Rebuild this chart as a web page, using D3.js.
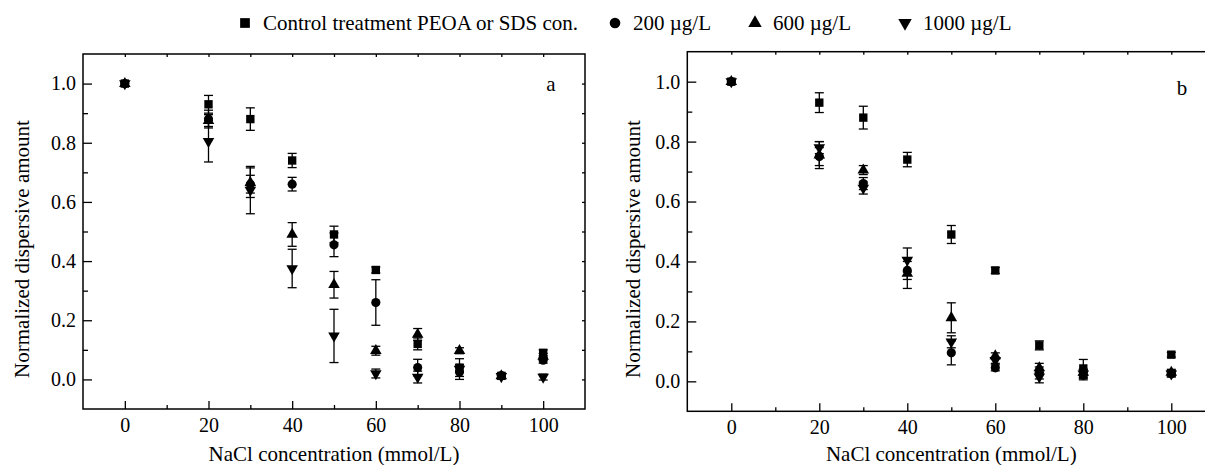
<!DOCTYPE html>
<html>
<head>
  <meta charset="utf-8" />
  <title>Normalized dispersive amount vs NaCl</title>
  <script src="https://d3js.org/d3.v7.min.js"></script>
  <style>
    body { margin: 0; background: #fff; }
    svg { display: block; }
    .axis path { display: none; }
    .axis line { stroke: #000; stroke-width: 1.3px; }
  </style>
</head>
<body>
<div id="chart"></div>
<script>
// ---- data ----
const concA = [0, 20, 30, 40, 50, 60, 70, 80, 90, 100];
const ctrlA = [1.0, 0.93, 0.88, 0.74, 0.49, 0.37, 0.12, 0.04, 0.012, 0.09];
const ctrlAErr = [0, 0.03, 0.038, 0.024, 0.028, 0.01, 0.02, 0.03, 0.008, 0.01];
const c200A = [1.0, 0.88, 0.66, 0.66, 0.455, 0.26, 0.04, 0.025, 0.013, 0.065];
const c200AErr = [0, 0.03, 0.03, 0.023, 0.04, 0.077, 0.028, 0.025, 0.008, 0.01];
const c600A = [1.0, 0.875, 0.665, 0.49, 0.32, 0.097, 0.152, 0.097, 0.012, 0.078];
const c600AErr = [0, 0.02, 0.05, 0.04, 0.045, 0.015, 0.02, 0.01, 0.008, 0.01];
const c1000A = [1.0, 0.805, 0.64, 0.375, 0.147, 0.02, 0.008, 0.035, 0.01, 0.008];
const c1000AErr = [0, 0.07, 0.08, 0.065, 0.09, 0.015, 0.02, 0.01, 0.008, 0.01];

const concB = [0, 20, 30, 40, 50, 60, 70, 80, 100];
const ctrlB = [1.0, 0.93, 0.88, 0.74, 0.49, 0.37, 0.12, 0.043, 0.089];
const ctrlBErr = [0, 0.033, 0.038, 0.024, 0.03, 0.01, 0.015, 0.03, 0.008];
const c200B = [1.0, 0.75, 0.66, 0.37, 0.095, 0.045, 0.028, 0.02, 0.025];
const c200BErr = [0, 0.03, 0.02, 0.03, 0.04, 0.01, 0.02, 0.015, 0.01];
const c600B = [1.0, 0.755, 0.705, 0.36, 0.212, 0.085, 0.045, 0.03, 0.03];
const c600BErr = [0, 0.045, 0.015, 0.05, 0.05, 0.01, 0.015, 0.01, 0.01];
const c1000B = [1.0, 0.78, 0.645, 0.405, 0.132, 0.07, 0.015, 0.025, 0.025];
const c1000BErr = [0, 0.02, 0.02, 0.04, 0.02, 0.01, 0.02, 0.015, 0.01];

const seriesNames = ["Control treatment PEOA or SDS con.", "200 \u00b5g/L", "600 \u00b5g/L", "1000 \u00b5g/L"];
const xMajorTicks = [0, 20, 40, 60, 80, 100];
const xMinorTicks = [10, 30, 50, 70, 90];
const yMajorTicks = [0.0, 0.2, 0.4, 0.6, 0.8, 1.0];
const yMinorTicks = [0.1, 0.3, 0.5, 0.7, 0.9];

const width = 1205;
const height = 465;
const serif = "Liberation Serif";

const svg = d3.select("#chart").append("svg")
  .attr("width", width)
  .attr("height", height)
  .attr("viewBox", [0, 0, width, height])
  .attr("font-family", serif);

svg.append("rect").attr("width", width).attr("height", height).attr("fill", "#fff");

// marker shapes, down triangle is the triangle turned over
const shapes = [
  { type: d3.symbolSquare, size: 70, rot: 0 },
  { type: d3.symbolCircle, size: 66, rot: 0 },
  { type: d3.symbolTriangle, size: 58, rot: 0 },
  { type: d3.symbolTriangle, size: 58, rot: 180 }
];

function styleAxis(sel) {
  sel.attr("class", "axis").attr("font-family", serif).attr("font-size", 20);
  sel.selectAll("text").attr("fill", "#000").attr("font-family", serif).attr("font-size", 20);
}

function drawPanel(opts) {
  const x = d3.scaleLinear().domain([-10, 110]).range([opts.left, opts.right]);
  const y = d3.scaleLinear().domain([-0.1, 1.1]).range([opts.bottom, opts.top]);
  const g = svg.append("g");

  // bottom axis, ticks pointing inward
  g.append("g")
    .attr("transform", `translate(0,${opts.bottom})`)
    .call(d3.axisBottom(x).tickValues(xMajorTicks).tickSizeInner(-8).tickSizeOuter(0).tickPadding(9))
    .call(styleAxis);
  g.append("g")
    .attr("transform", `translate(0,${opts.bottom})`)
    .call(d3.axisBottom(x).tickValues(xMinorTicks).tickSizeInner(-4).tickSizeOuter(0).tickFormat(""))
    .call(styleAxis);
  // left axis
  g.append("g")
    .attr("transform", `translate(${opts.left},0)`)
    .call(d3.axisLeft(y).tickValues(yMajorTicks).tickSizeInner(-9).tickSizeOuter(0).tickPadding(7).tickFormat(d3.format(".1f")))
    .call(styleAxis);
  g.append("g")
    .attr("transform", `translate(${opts.left},0)`)
    .call(d3.axisLeft(y).tickValues(yMinorTicks).tickSizeInner(-5).tickSizeOuter(0).tickFormat(""))
    .call(styleAxis);
  // top and right: small inward ticks only
  g.append("g")
    .attr("transform", `translate(0,${opts.top})`)
    .call(d3.axisTop(x).tickValues(xMajorTicks.concat(xMinorTicks)).tickSizeInner(-3).tickSizeOuter(0).tickFormat(""))
    .call(styleAxis);
  g.append("g")
    .attr("transform", `translate(${opts.right},0)`)
    .call(d3.axisRight(y).tickValues(yMajorTicks.concat(yMinorTicks)).tickSizeInner(-3).tickSizeOuter(0).tickFormat(""))
    .call(styleAxis);

  // frame
  g.append("rect")
    .attr("x", opts.left).attr("y", opts.top)
    .attr("width", opts.right - opts.left).attr("height", opts.bottom - opts.top)
    .attr("fill", "none").attr("stroke", "#000").attr("stroke-width", 1.5);

  // axis titles
  g.append("text")
    .attr("x", (opts.left + opts.right) / 2).attr("y", 461)
    .attr("text-anchor", "middle").attr("font-size", 21)
    .text("NaCl concentration (mmol/L)");
  g.append("text")
    .attr("transform", `translate(${opts.ylabelX},249) rotate(-90)`)
    .attr("text-anchor", "middle").attr("font-size", 21)
    .text("Normalized dispersive amount");
  g.append("text")
    .attr("x", opts.tagX).attr("y", opts.tagY)
    .attr("text-anchor", "middle").attr("font-size", 21)
    .text(opts.tag);

  // error bars then markers
  opts.series.forEach((s) => {
    const pts = opts.conc.map((c, i) => ({ c: c, v: s.vals[i], e: s.errs[i] }));
    const bars = g.append("g").attr("stroke", "#000").attr("stroke-width", 1.3);
    pts.filter(d => d.e > 0).forEach(d => {
      const cx = x(d.c);
      bars.append("line").attr("x1", cx).attr("x2", cx).attr("y1", y(d.v - d.e)).attr("y2", y(d.v + d.e));
      bars.append("line").attr("x1", cx - 4.5).attr("x2", cx + 4.5).attr("y1", y(d.v + d.e)).attr("y2", y(d.v + d.e));
      bars.append("line").attr("x1", cx - 4.5).attr("x2", cx + 4.5).attr("y1", y(d.v - d.e)).attr("y2", y(d.v - d.e));
    });
  });
  opts.series.forEach((s, si) => {
    const sh = shapes[si];
    const pts = opts.conc.map((c, i) => ({ c: c, v: s.vals[i] }));
    g.append("g").selectAll("path")
      .data(pts)
      .join("path")
      .attr("d", d3.symbol().type(sh.type).size(sh.size))
      .attr("transform", d => `translate(${x(d.c)},${y(d.v)}) rotate(${sh.rot})`)
      .attr("fill", "#000");
  });
}

drawPanel({
  left: 83, right: 585, top: 54, bottom: 409,
  ylabelX: 29, tag: "a", tagX: 551, tagY: 91,
  conc: concA,
  series: [
    { vals: ctrlA, errs: ctrlAErr },
    { vals: c200A, errs: c200AErr },
    { vals: c600A, errs: c600AErr },
    { vals: c1000A, errs: c1000AErr }
  ]
});

drawPanel({
  left: 687.3, right: 1215.3, top: 51.7, bottom: 411.3,
  ylabelX: 640, tag: "b", tagX: 1182, tagY: 95,
  conc: concB,
  series: [
    { vals: ctrlB, errs: ctrlBErr },
    { vals: c200B, errs: c200BErr },
    { vals: c600B, errs: c600BErr },
    { vals: c1000B, errs: c1000BErr }
  ]
});

// legend across the top
const legendX = [245, 615, 755, 905];
const legend = svg.append("g");
seriesNames.forEach((name, i) => {
  const sh = shapes[i];
  legend.append("path")
    .attr("d", d3.symbol().type(sh.type).size(sh.size * 1.35))
    .attr("transform", `translate(${legendX[i]},23) rotate(${sh.rot})`)
    .attr("fill", "#000");
  legend.append("text")
    .attr("x", legendX[i] + 18).attr("y", 30)
    .attr("font-size", 21)
    .text(name);
});
</script>
</body>
</html>
